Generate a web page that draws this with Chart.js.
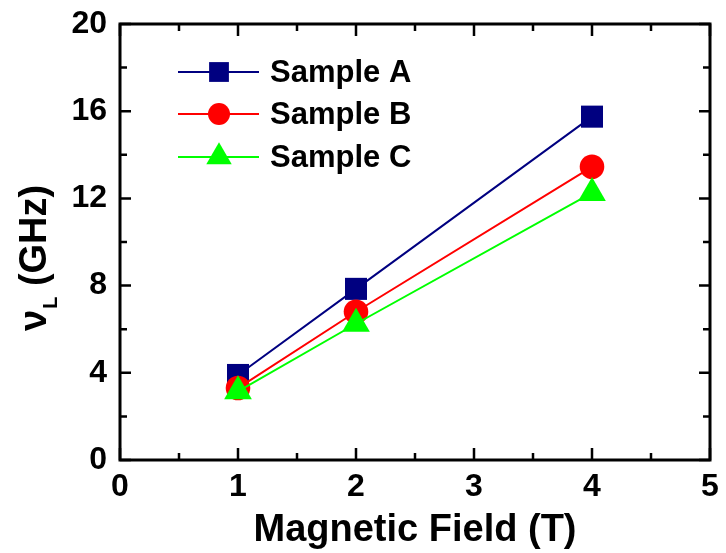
<!DOCTYPE html>
<html>
<head>
<meta charset="utf-8">
<script src="https://cdn.jsdelivr.net/npm/chart.js@4/dist/chart.umd.min.js"></script>
<style>
  html, body { margin: 0; padding: 0; background: #fff; }
  #wrap { width: 726px; height: 553px; position: relative; }
</style>
</head>
<body>
<div id="wrap"><canvas id="c" width="726" height="553"></canvas></div>
<script>
const fields = [1, 2, 4];
const sampleA = [3.9, 7.85, 15.75];
const sampleB = [3.3, 6.8, 13.45];
const sampleC = [3.15, 6.25, 12.25];
const seriesNames = ['Sample A', 'Sample B', 'Sample C'];
const xTicks = [0, 1, 2, 3, 4, 5];
const yTicks = [0, 4, 8, 12, 16, 20];
const xTitle = 'Magnetic Field (T)';

const FONT = '"Liberation Sans", Arial, Helvetica, sans-serif';

function pts(ys) { return fields.map((x, i) => ({ x: x, y: ys[i] })); }

function drawMarker(ctx, style, x, y, r, color) {
  ctx.save();
  ctx.fillStyle = color;
  ctx.beginPath();
  if (style === 'rect') {
    const s = Math.SQRT1_2 * r;
    ctx.rect(x - s, y - s, 2 * s, 2 * s);
  } else if (style === 'circle') {
    ctx.arc(x, y, r, 0, Math.PI * 2);
  } else if (style === 'triangle') {
    let a = 0;
    ctx.moveTo(x + Math.sin(a) * r, y - Math.cos(a) * r);
    a += 2 * Math.PI / 3;
    ctx.lineTo(x + Math.sin(a) * r, y - Math.cos(a) * r);
    a += 2 * Math.PI / 3;
    ctx.lineTo(x + Math.sin(a) * r, y - Math.cos(a) * r);
    ctx.closePath();
  }
  ctx.fill();
  ctx.restore();
}

function zeroPad(scale) {
  scale.paddingLeft = 0; scale.paddingRight = 0;
  scale.paddingTop = 0; scale.paddingBottom = 0;
}

const frameAndLegend = {
  id: 'frameAndLegend',
  afterDraw(chart) {
    const ctx = chart.ctx;
    const a = chart.chartArea;
    const xs = chart.scales.x, ys = chart.scales.y;
    ctx.save();
    // frame
    ctx.strokeStyle = '#000';
    ctx.lineWidth = 3;
    ctx.strokeRect(a.left, a.top, a.right - a.left, a.bottom - a.top);
    // ticks (inward, all four sides)
    ctx.lineWidth = 2.5;
    ctx.beginPath();
    for (let v = 0; v <= 5.001; v += 0.5) {
      const px = xs.getPixelForValue(v);
      const major = Math.abs(v - Math.round(v)) < 1e-6;
      const len = major ? 12 : 7;
      ctx.moveTo(px, a.bottom); ctx.lineTo(px, a.bottom - len);
      ctx.moveTo(px, a.top); ctx.lineTo(px, a.top + len);
    }
    for (let v = 0; v <= 20.001; v += 2) {
      const py = ys.getPixelForValue(v);
      const major = (Math.round(v) % 4) === 0;
      const len = major ? 11 : 7;
      ctx.moveTo(a.left, py); ctx.lineTo(a.left + len, py);
      ctx.moveTo(a.right, py); ctx.lineTo(a.right - len, py);
    }
    ctx.stroke();

    // legend
    const rows = [72, 114, 157];
    const legR = [14, 11, 14.7];
    chart.data.datasets.forEach((ds, i) => {
      const y = rows[i];
      ctx.strokeStyle = ds.borderColor;
      ctx.lineWidth = 2;
      ctx.beginPath();
      ctx.moveTo(178, y); ctx.lineTo(259, y);
      ctx.stroke();
      drawMarker(ctx, ds.pointStyle, 219, y, legR[i], ds.backgroundColor);
      ctx.fillStyle = '#000';
      ctx.font = 'bold 31px ' + FONT;
      ctx.textAlign = 'left';
      ctx.textBaseline = 'middle';
      ctx.fillText(ds.label, 270, y + 1);
    });

    // y axis title: ν_L (GHz)
    ctx.save();
    ctx.translate(46, 331);
    ctx.rotate(-Math.PI / 2);
    ctx.fillStyle = '#000';
    ctx.textAlign = 'left';
    ctx.textBaseline = 'alphabetic';
    ctx.font = 'bold 38px ' + FONT;
    ctx.fillText('ν', 0, 0);
    let w = ctx.measureText('ν').width;
    ctx.font = 'bold 20px ' + FONT;
    ctx.fillText('L', w + 1, 11);
    w += 1 + ctx.measureText('L').width;
    ctx.font = 'bold 38px ' + FONT;
    ctx.fillText(' (GHz)', w, 0);
    ctx.restore();

    ctx.restore();
  }
};

const styles = ['rect', 'circle', 'triangle'];
const colors = ['#000080', '#ff0000', '#00ff00'];
const radii = [15.6, 12.3, 16];
const seriesData = [sampleA, sampleB, sampleC];

new Chart(document.getElementById('c'), {
  type: 'line',
  data: {
    datasets: seriesData.map((d, i) => ({
      label: seriesNames[i],
      data: pts(d),
      borderColor: colors[i],
      backgroundColor: colors[i],
      borderWidth: 2,
      pointStyle: styles[i],
      pointRadius: radii[i],
      pointHoverRadius: radii[i],
      pointBorderWidth: 0,
      pointBackgroundColor: colors[i],
      tension: 0,
      fill: false,
      order: 3 - i
    }))
  },
  options: {
    responsive: false,
    animation: false,
    events: [],
    layout: { padding: { top: 24, right: 11, left: 0, bottom: 0 } },
    plugins: {
      legend: { display: false },
      tooltip: { enabled: false }
    },
    scales: {
      x: {
        type: 'linear',
        min: 0, max: 5,
        afterBuildTicks(scale) { scale.ticks = xTicks.map(v => ({ value: v })); },
        afterFit(scale) { scale.height = 93; zeroPad(scale); },
        grid: { display: false, drawTicks: false },
        border: { display: false },
        ticks: {
          color: '#000',
          padding: 8,
          maxRotation: 0,
          font: { family: FONT, size: 32, weight: 'bold' }
        },
        title: {
          display: true,
          text: xTitle,
          color: '#000',
          padding: { top: 0, bottom: 0 },
          font: { family: FONT, size: 38, weight: 'bold' }
        }
      },
      y: {
        type: 'linear',
        min: 0, max: 20,
        afterBuildTicks(scale) { scale.ticks = yTicks.map(v => ({ value: v })); },
        afterFit(scale) { scale.width = 120; zeroPad(scale); },
        grid: { display: false, drawTicks: false },
        border: { display: false },
        ticks: {
          color: '#000',
          padding: 13,
          font: { family: FONT, size: 32, weight: 'bold' }
        }
      }
    }
  },
  plugins: [frameAndLegend]
});
</script>
</body>
</html>
